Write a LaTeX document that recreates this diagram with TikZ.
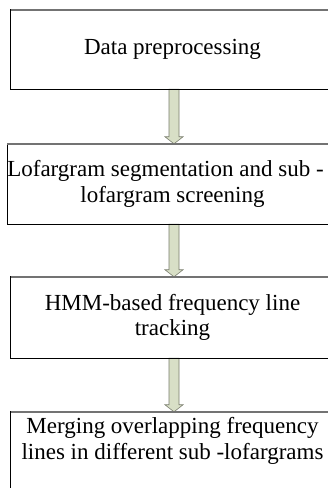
\documentclass[tikz,border=0pt]{standalone}
\usepackage{fontspec}
\setmainfont{Liberation Serif}
\usetikzlibrary{calc}
\definecolor{shaftfill}{RGB}{216,223,198}
\definecolor{shaftline}{RGB}{120,124,108}
\tikzset{
  stage/.style={inner sep=0pt, minimum width=323pt, align=center,
    font=\fontsize{23}{25.5}\selectfont},
  frame/.style={draw=black, line width=0.8pt},
  topedge/.style={draw=black!55, line width=1.6pt},
  fatarrow/.style={draw=shaftline, fill=shaftfill, line width=0.6pt, line join=miter}
}
\newcommand\flowarrow[2]{%
  \draw[fatarrow] ($(#1.south)+(-3.5,0)$) -- ($(#2.north)+(-3.5,7)$)
    -- ($(#2.north)+(-7.5,7)$) -- ($(#2.north)+(1.5,0)$)
    -- ($(#2.north)+(10.5,7)$) -- ($(#2.north)+(6.5,7)$)
    -- ($(#1.south)+(6.5,0)$) -- cycle;}
\begin{document}
\begin{tikzpicture}[x=1pt,y=1pt]
\useasboundingbox (0,0) rectangle (328,488);
% stage boxes (frames drawn after the arrows; they run on past the right edge)
\node[stage, minimum height=79pt] (b1) at (172.5,438.5) {Data preprocessing};
\node[stage, minimum height=80pt] (b2) at (172.5,304) {Lofargram segmentation and sub -\hspace*{14pt}\\lofargram screening};
\node[stage, minimum height=81pt] (b3) at (172.5,170.5) {HMM-based frequency line\\tracking};
\node[stage, minimum height=58pt] (b4) at (172.5,47) {Merging overlapping frequency\\lines in different sub -lofargrams};
% arrows between stages
\flowarrow{b1}{b2}
\flowarrow{b2}{b3}
\flowarrow{b3}{b4}
% frames
\foreach \b in {b1,b2,b3}{
  \draw[frame] (\b.south west) rectangle ($(\b.north east)+(15,0)$);
  \draw[topedge] (\b.north west) -- ($(\b.north east)+(15,0)$);
}
\draw[frame] ($(b4.north east)+(15,0)$) -- (b4.north west) -- ($(b4.north west)+(0,-100)$);
\draw[topedge] (b4.north west) -- ($(b4.north east)+(15,0)$);
\end{tikzpicture}
\end{document}
